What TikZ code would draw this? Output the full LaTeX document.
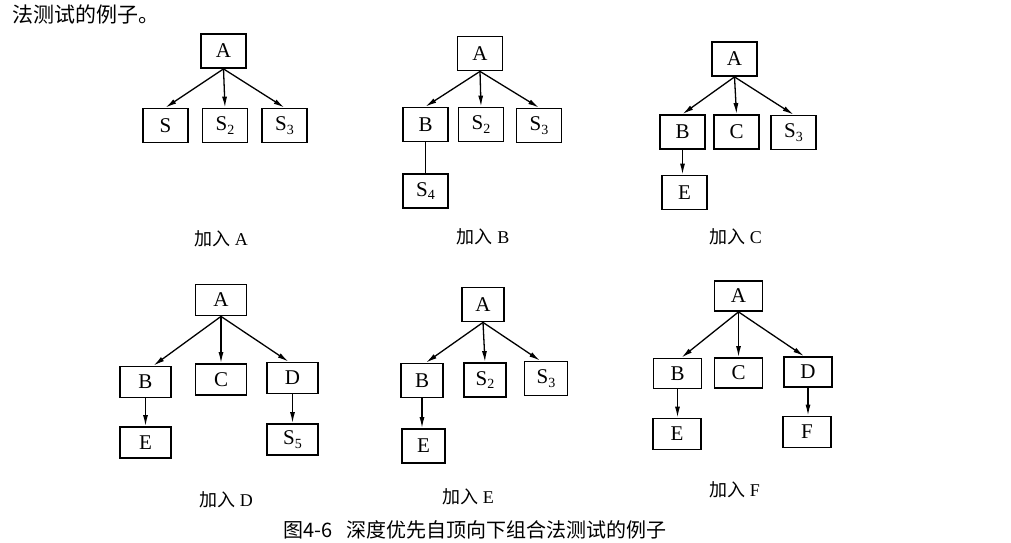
\documentclass[tikz,border=0pt]{standalone}
\usepackage{fontspec}
\setmainfont{Liberation Serif}
\newfontfamily\cjk{Noto Sans CJK SC}
\usetikzlibrary{arrows.meta}
\tikzset{
  box/.style={draw, line width=1.8pt, inner sep=0pt, minimum width=45pt, minimum height=34pt, font=\fontsize{21}{21}\selectfont},
  wbox/.style={box, minimum width=51pt, minimum height=31pt},
  arr/.style={line width=1.3pt, -{Latex[length=11pt,width=5pt]}},
  plain/.style={line width=1.3pt},
  lbl/.style={inner sep=0pt, font=\fontsize{18}{18}\selectfont},
  cjktext/.style={inner sep=0pt, font=\cjk\fontsize{21}{21}\selectfont}
}
\newcommand{\sub}[1]{S\raisebox{-0.35ex}{\fontsize{14}{14}\selectfont #1}}
\begin{document}
\begin{tikzpicture}[x=1pt,y=-1pt]
\fill[white] (0,0) rectangle (1011,542);
\clip (0,0) rectangle (1011,542);
\useasboundingbox (0,0) rectangle (1011,542);

% top-left fragment
\node[cjktext, anchor=west] (toptext) at (12,14) {法测试的例子。};

% Diagram 1: 加入 A
\node[box] (a1) at (223.5,51) {A};
\node[box] (s1) at (165.5,125.5) {S};
\node[box] (s21) at (225,125.5) {\sub{2}};
\node[box] (s31) at (284.5,125.5) {\sub{3}};
\draw[arr] (a1.south) -- (s1.north);
\draw[arr] (a1.south) -- (s21.north);
\draw[arr] (a1.south) -- (s31.north);
\node[lbl] (l1) at (221,239) {{\cjk 加入} A};

% Diagram 2: 加入 B
\node[box] (a2) at (480,53.5) {A};
\node[box] (b2) at (425.5,124.5) {B};
\node[box] (s22) at (481,124.5) {\sub{2}};
\node[box] (s32) at (539,125.5) {\sub{3}};
\node[box] (s42) at (425.5,191) {\sub{4}};
\draw[arr] (a2.south) -- (b2.north);
\draw[arr] (a2.south) -- (s22.north);
\draw[arr] (a2.south) -- (s32.north);
\draw[plain] (b2.south) -- (s42.north);
\node[lbl] (l2) at (483,237) {{\cjk 加入} B};

% Diagram 3: 加入 C
\node[box] (a3) at (734.5,59) {A};
\node[box] (b3) at (682.5,132) {B};
\node[box] (c3) at (736.5,132) {C};
\node[box] (s33) at (793.5,132.5) {\sub{3}};
\node[box] (e3) at (684.5,192.5) {E};
\draw[arr] (a3.south) -- (b3.north);
\draw[arr] (a3.south) -- (c3.north);
\draw[arr] (a3.south) -- (s33.north);
\draw[arr] (b3.south) -- (b3.south |- e3.north);
\node[lbl] (l3) at (735.5,237) {{\cjk 加入} C};

% Diagram 4: 加入 D
\node[wbox] (a4) at (221,300) {A};
\node[wbox] (b4) at (145.5,382) {B};
\node[wbox] (c4) at (221,379.5) {C};
\node[wbox] (d4) at (292.5,378) {D};
\node[wbox] (e4) at (145.5,442.5) {E};
\node[wbox] (s54) at (292.5,439.5) {\sub{5}};
\draw[arr] (a4.south) -- ([xshift=8pt]b4.north);
\draw[arr] (a4.south) -- (c4.north);
\draw[arr] (a4.south) -- ([xshift=-4pt]d4.north);
\draw[arr] (b4.south) -- (e4.north);
\draw[arr] (d4.south) -- (s54.north);
\node[lbl] (l4) at (226,500) {{\cjk 加入} D};

% Diagram 5: 加入 E
\node[box, minimum width=42pt] (a5) at (483,304.5) {A};
\node[box, minimum width=42pt] (b5) at (422,380.5) {B};
\node[box, minimum width=42pt] (s25) at (485,380) {\sub{2}};
\node[box, minimum width=43pt] (s35) at (546,378.5) {\sub{3}};
\node[box, minimum width=43pt] (e5) at (423.5,446) {E};
\draw[arr] (a5.south) -- ([xshift=4pt]b5.north);
\draw[arr] (a5.south) -- (s25.north);
\draw[arr] (a5.south) -- ([xshift=-6pt]s35.north);
\draw[arr] (b5.south) -- (b5.south |- e5.north);
\node[lbl] (l5) at (468,497) {{\cjk 加入} E};

% Diagram 6: 加入 F
\node[box, minimum width=48pt, minimum height=30pt] (a6) at (738.5,296) {A};
\node[box, minimum width=48pt, minimum height=30pt] (b6) at (677.5,373.5) {B};
\node[box, minimum width=48pt, minimum height=30pt] (c6) at (738.5,373) {C};
\node[box, minimum width=48pt, minimum height=30pt] (d6) at (808,372) {D};
\node[box, minimum width=48pt, minimum height=31pt] (e6) at (677,434) {E};
\node[box, minimum width=48pt, minimum height=31pt] (f6) at (807,432) {F};
\draw[arr] (a6.south) -- ([xshift=4pt]b6.north);
\draw[arr] (a6.south) -- (c6.north);
\draw[arr] (a6.south) -- ([xshift=-4pt]d6.north);
\draw[arr] (b6.south) -- (b6.south |- e6.north);
\draw[arr] (d6.south) -- (d6.south |- f6.north);
\node[lbl] (l6) at (734.5,490) {{\cjk 加入} F};

% caption
\node[cjktext, anchor=west, font=\cjk\fontsize{20}{20}\selectfont] (cap) at (283,530) {图4-6\hspace{0.7em}深度优先自顶向下组合法测试的例子};
\end{tikzpicture}
\end{document}
